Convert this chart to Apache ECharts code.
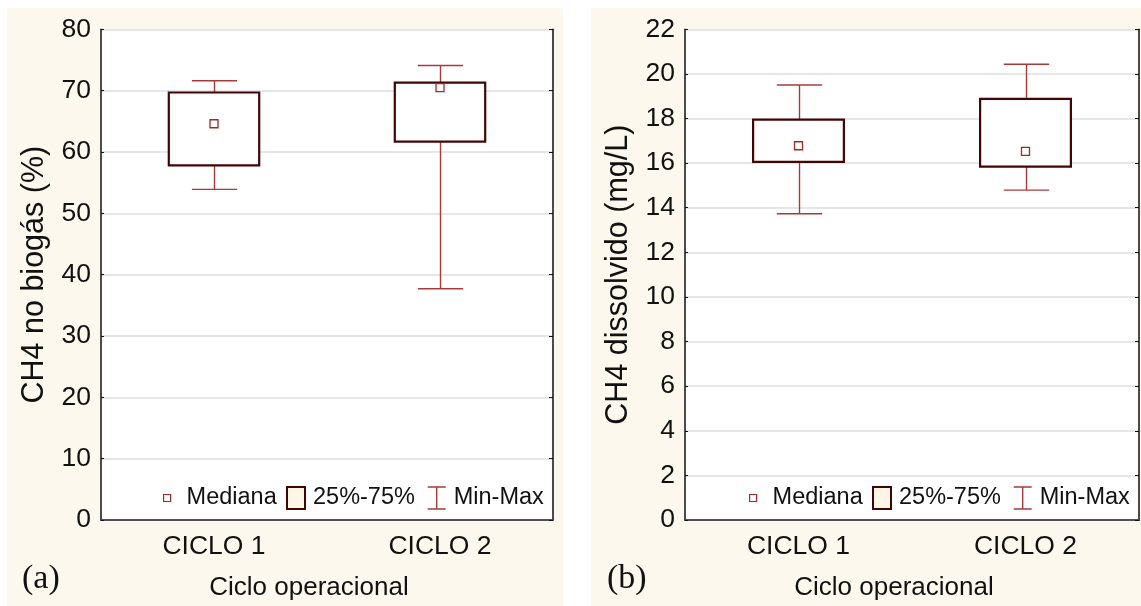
<!DOCTYPE html>
<html>
<head>
<meta charset="utf-8">
<script src="https://cdn.jsdelivr.net/npm/echarts@6/dist/echarts.min.js"></script>
<style>
  html, body { margin: 0; padding: 0; background: #ffffff; }
  #chart { width: 1141px; height: 606px; }
</style>
</head>
<body>
<div id="chart"></div>
<script>
// Operational cycles
const categories = ['CICLO 1', 'CICLO 2'];

// (a) CH4 in biogas (%)
const biogasMin = [53.9, 37.7];
const biogasQ1 = [57.8, 61.7];
const biogasMedian = [64.6, 70.5];
const biogasQ3 = [69.7, 71.3];
const biogasMax = [71.6, 74.1];

// (b) dissolved CH4 (mg/L)
const dissolvedMin = [13.73, 14.79];
const dissolvedQ1 = [16.06, 15.84];
const dissolvedMedian = [16.78, 16.53];
const dissolvedQ3 = [17.95, 18.88];
const dissolvedMax = [19.5, 20.43];

// Axis ranges and tick steps
const biogasAxis = { min: 0, max: 80, interval: 10 };
const dissolvedAxis = { min: 0, max: 22, interval: 2 };

// Legend entries
const legendNames = ['Mediana', '25%-75%', 'Min-Max'];

const FONT = '"Liberation Sans", Arial, sans-serif';
const SERIF = '"Liberation Serif", "Times New Roman", serif';
const CREAM = '#fdf8ed';
const BOX_COLOR = '#450404';
const WHISKER_COLOR = '#a83a3a';
const MEDIAN_COLOR = '#a02a2a';

function whiskerItem(params, api) {
  const i = api.value(0);
  const pMin = api.coord([i, api.value(1)]);
  const pQ1 = api.coord([i, api.value(2)]);
  const pQ3 = api.coord([i, api.value(3)]);
  const pMax = api.coord([i, api.value(4)]);
  const half = api.size([1, 0])[0] * 0.1;
  const x = Math.round(pMax[0]) + 0.5;
  const style = { stroke: WHISKER_COLOR, lineWidth: 1.4 };
  return {
    type: 'group',
    children: [
      { type: 'line', shape: { x1: x, y1: pMax[1], x2: x, y2: pQ3[1] }, style },
      { type: 'line', shape: { x1: x, y1: pQ1[1], x2: x, y2: pMin[1] }, style },
      { type: 'line', shape: { x1: x - half, y1: pMax[1], x2: x + half, y2: pMax[1] }, style },
      { type: 'line', shape: { x1: x - half, y1: pMin[1], x2: x + half, y2: pMin[1] }, style }
    ]
  };
}

function boxItem(params, api) {
  const i = api.value(0);
  const pQ1 = api.coord([i, api.value(1)]);
  const pQ3 = api.coord([i, api.value(2)]);
  const w = api.size([1, 0])[0] * 0.4;
  return {
    type: 'rect',
    shape: { x: pQ3[0] - w / 2, y: pQ3[1], width: w, height: pQ1[1] - pQ3[1] },
    style: { fill: '#ffffff', stroke: BOX_COLOR, lineWidth: 2.2 }
  };
}

function medianItem(params, api) {
  const p = api.coord([api.value(0), api.value(1)]);
  const s = 8;
  return {
    type: 'rect',
    shape: { x: p[0] - s / 2, y: p[1] - s / 2, width: s, height: s },
    style: { fill: '#ffffff', stroke: MEDIAN_COLOR, lineWidth: 1.3 }
  };
}

function panelSeries(idx, mins, q1s, meds, q3s, maxs) {
  return [
    {
      name: 'Min-Max', type: 'custom', xAxisIndex: idx * 2, yAxisIndex: idx * 2,
      renderItem: whiskerItem, encode: { x: 0, y: [1, 2, 3, 4] }, z: 3,
      itemStyle: { color: WHISKER_COLOR },
      data: categories.map((c, i) => [i, mins[i], q1s[i], q3s[i], maxs[i]])
    },
    {
      name: '25%-75%', type: 'custom', xAxisIndex: idx * 2, yAxisIndex: idx * 2,
      renderItem: boxItem, encode: { x: 0, y: [1, 2] }, z: 4,
      itemStyle: { color: BOX_COLOR },
      data: categories.map((c, i) => [i, q1s[i], q3s[i]])
    },
    {
      name: 'Mediana', type: 'custom', xAxisIndex: idx * 2, yAxisIndex: idx * 2,
      renderItem: medianItem, encode: { x: 0, y: 1 }, z: 5,
      itemStyle: { color: MEDIAN_COLOR },
      data: categories.map((c, i) => [i, meds[i]])
    }
  ];
}

function panelAxes(gridIndex, range, yName) {
  const xAxes = [
    {
      type: 'category', gridIndex, data: categories, position: 'bottom',
      axisLine: { lineStyle: { color: '#111', width: 1.5 } },
      axisTick: { inside: true, alignWithLabel: true, length: 4, lineStyle: { color: '#111' } },
      axisLabel: { color: '#111', fontFamily: FONT, fontSize: 26.5, margin: 13 },
      name: 'Ciclo operacional', nameLocation: 'middle', nameGap: 55,
      nameTextStyle: { color: '#111', fontFamily: FONT, fontSize: 26, padding: [0, 36, 0, 0] },
      splitLine: { show: false }
    },
    {
      type: 'category', gridIndex, data: categories, position: 'top',
      axisLine: { lineStyle: { color: '#555', width: 1.5 } },
      axisTick: { inside: true, alignWithLabel: true, length: 4, lineStyle: { color: '#333' } },
      axisLabel: { show: false }, splitLine: { show: false }
    }
  ];
  const yAxes = [
    {
      type: 'value', gridIndex, position: 'left',
      min: range.min, max: range.max, interval: range.interval,
      axisLine: { show: true, lineStyle: { color: '#111', width: 1.5 } },
      axisTick: { show: true, inside: true, length: 3, lineStyle: { color: '#111' } },
      axisLabel: { color: '#111', fontFamily: FONT, fontSize: 26.5, margin: 10 },
      splitLine: { show: true, lineStyle: { color: '#dedede', width: 1.5 } },
      name: yName, nameLocation: 'middle', nameGap: 51,
      nameTextStyle: { color: '#111', fontFamily: FONT, fontSize: 30.5 }
    },
    {
      type: 'value', gridIndex, position: 'right',
      min: range.min, max: range.max, interval: range.interval,
      axisLine: { show: true, lineStyle: { color: '#111', width: 1.5 } },
      axisTick: { show: true, inside: true, length: 4, lineStyle: { color: '#111' } },
      axisLabel: { show: false }, splitLine: { show: false }
    }
  ];
  return { xAxes, yAxes };
}

function panelLegends(offsetX) {
  const common = {
    orient: 'horizontal', padding: 0, top: 486, selectedMode: false,
    textStyle: { color: '#111', fontFamily: FONT, fontSize: 23.5 }
  };
  return [
    Object.assign({}, common, {
      left: 163 + offsetX, data: [legendNames[0]], icon: 'rect',
      itemWidth: 7, itemHeight: 7,
      itemStyle: { color: '#ffffff', borderColor: MEDIAN_COLOR, borderWidth: 1.2 },
      textStyle: Object.assign({}, common.textStyle, { padding: [0, 0, 0, 11] })
    }),
    Object.assign({}, common, {
      left: 286 + offsetX, data: [legendNames[1]], icon: 'rect',
      itemWidth: 18, itemHeight: 22,
      itemStyle: { color: '#fdf6e6', borderColor: BOX_COLOR, borderWidth: 2 },
      textStyle: Object.assign({}, common.textStyle, { padding: [0, 0, 0, 3] })
    }),
    Object.assign({}, common, {
      left: 427 + offsetX, data: [legendNames[2]],
      icon: 'path://M0,0 L18,0 M9,0 L9,22 M0,22 L18,22',
      itemWidth: 18, itemHeight: 22,
      itemStyle: { color: 'rgba(0,0,0,0)', borderColor: WHISKER_COLOR, borderWidth: 1.4 },
      textStyle: Object.assign({}, common.textStyle, { padding: [0, 0, 0, 3] })
    })
  ];
}

const axesA = panelAxes(0, biogasAxis, 'CH4 no biogás (%)');
const axesB = panelAxes(1, dissolvedAxis, 'CH4 dissolvido (mg/L)');

const option = {
  animation: false,
  backgroundColor: '#ffffff',
  graphic: [
    { type: 'rect', z: -10, shape: { x: 7, y: 8, width: 556, height: 598 }, style: { fill: CREAM } },
    { type: 'rect', z: -10, shape: { x: 591, y: 8, width: 550, height: 598 }, style: { fill: CREAM } },
    { type: 'text', left: 22, top: 562, style: { text: '(a)', fill: '#111', font: '34px ' + SERIF } },
    { type: 'text', left: 607, top: 562, style: { text: '(b)', fill: '#111', font: '34px ' + SERIF } }
  ],
  grid: [
    { left: 101, right: 588, top: 29.3, bottom: 86, show: true, backgroundColor: '#ffffff', borderWidth: 0 },
    { left: 685, right: 2, top: 29.3, bottom: 86, show: true, backgroundColor: '#ffffff', borderWidth: 0 }
  ],
  xAxis: axesA.xAxes.concat(axesB.xAxes),
  yAxis: axesA.yAxes.concat(axesB.yAxes),
  legend: panelLegends(0).concat(panelLegends(586)),
  series: panelSeries(0, biogasMin, biogasQ1, biogasMedian, biogasQ3, biogasMax)
    .concat(panelSeries(1, dissolvedMin, dissolvedQ1, dissolvedMedian, dissolvedQ3, dissolvedMax))
};

const chart = echarts.init(document.getElementById('chart'), null, { renderer: 'canvas' });
chart.setOption(option);
</script>
</body>
</html>
